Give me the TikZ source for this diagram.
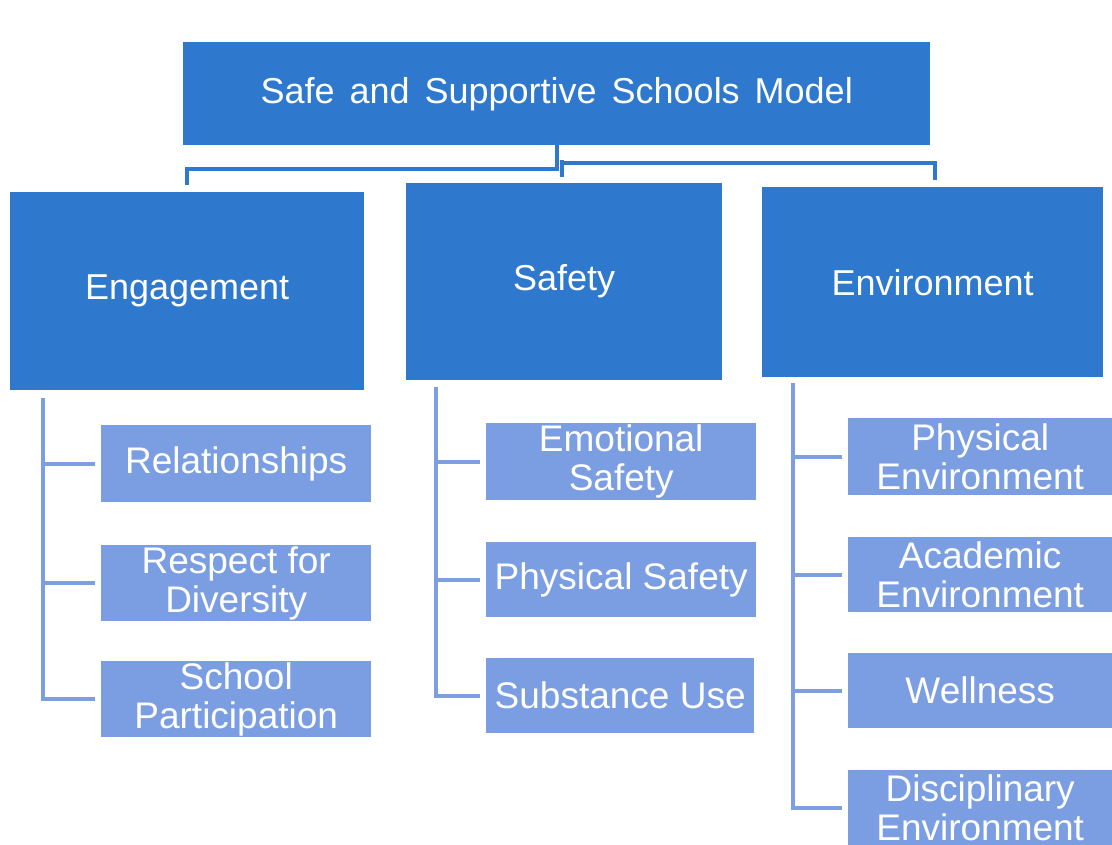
\documentclass[tikz,border=0pt]{standalone}
\usepackage{fontspec}
\setmainfont{Liberation Sans}
\newfontfamily\topfont[WordSpace=1.5]{Liberation Sans}
\definecolor{dkblue}{RGB}{46,121,206}
\definecolor{ltblue}{RGB}{123,158,226}
\definecolor{ltlinecol}{RGB}{125,158,225}
\begin{document}
\begin{tikzpicture}[x=1pt,y=-1pt,
  box/.style={inner sep=0pt, anchor=north west, text=white, align=center},
  dk/.style={box, fill=dkblue, font=\fontsize{36}{39}\selectfont},
  lt/.style={box, fill=ltblue, font=\fontsize{37}{39}\selectfont},
  dkline/.style={draw=dkblue, line width=4pt},
  ltline/.style={draw=ltlinecol, line width=4pt}]
\fill[white] (0,0) rectangle (1112,845);
\useasboundingbox (0,0) rectangle (1112,845);
\clip (0,0) rectangle (1112,845);

% level 0
\node[dk, minimum width=747pt, minimum height=103pt, font=\topfont\fontsize{36}{39}\selectfont] (top) at (183,42) {Safe and Supportive Schools Model};
% level 1
\node[dk, minimum width=354pt, minimum height=198pt] (eng) at (10,192) {Engagement};
\node[dk, minimum width=316pt, minimum height=197pt] (saf) at (406,183) {Safety};
\node[dk, minimum width=341pt, minimum height=190pt] (env) at (762,187) {Environment};
% level 2
\node[lt, minimum width=270pt, minimum height=77pt] (rel) at (101,425) {Relationships};
\node[lt, minimum width=270pt, minimum height=76pt] (resp) at (101,545) {Respect for\\Diversity};
\node[lt, minimum width=270pt, minimum height=76pt] (sch) at (101,661) {School\\Participation};
\node[lt, minimum width=270pt, minimum height=77pt] (emo) at (486,423) {Emotional\\Safety};
\node[lt, minimum width=270pt, minimum height=75pt] (phs) at (486,542) {Physical Safety};
\node[lt, minimum width=268pt, minimum height=75pt] (sub) at (486,658) {Substance Use};
\node[lt, minimum width=264pt, minimum height=77pt] (phe) at (848,418) {Physical\\Environment};
\node[lt, minimum width=264pt, minimum height=75pt] (aca) at (848,537) {Academic\\Environment};
\node[lt, minimum width=264pt, minimum height=75pt] (wel) at (848,653) {Wellness};
\node[lt, minimum width=264pt, minimum height=75pt] (dis) at (848,770) {Disciplinary\\Environment};

% top connectors
\coordinate (j1) at (top.south |- 0,169);
\draw[dkline] (top.south) -- (j1) -| ([yshift=7pt]eng.north);
\coordinate (j2) at (562,160);
\draw[dkline] (j2) -- (j2 |- 0,177);
\draw[dkline] (562,163) -| ([xshift=2pt,yshift=7pt]env.north);

% engagement
\coordinate (ev) at (43,398);
\draw[ltline] (ev) |- ([xshift=-6pt]sch.west);
\draw[ltline] (ev |- rel.west) -- ([xshift=-6pt]rel.west);
\draw[ltline] (ev |- resp.west) -- ([xshift=-6pt]resp.west);
% safety
\coordinate (sv) at (436,387);
\draw[ltline] (sv) |- ([xshift=-6pt]sub.west);
\draw[ltline] (sv |- emo.west) -- ([xshift=-6pt]emo.west);
\draw[ltline] (sv |- phs.west) -- ([xshift=-6pt]phs.west);
% environment
\coordinate (nv) at (793,383);
\draw[ltline] (nv) |- ([xshift=-6pt]dis.west);
\draw[ltline] (nv |- phe.west) -- ([xshift=-6pt]phe.west);
\draw[ltline] (nv |- aca.west) -- ([xshift=-6pt]aca.west);
\draw[ltline] (nv |- wel.west) -- ([xshift=-6pt]wel.west);
\end{tikzpicture}
\end{document}
